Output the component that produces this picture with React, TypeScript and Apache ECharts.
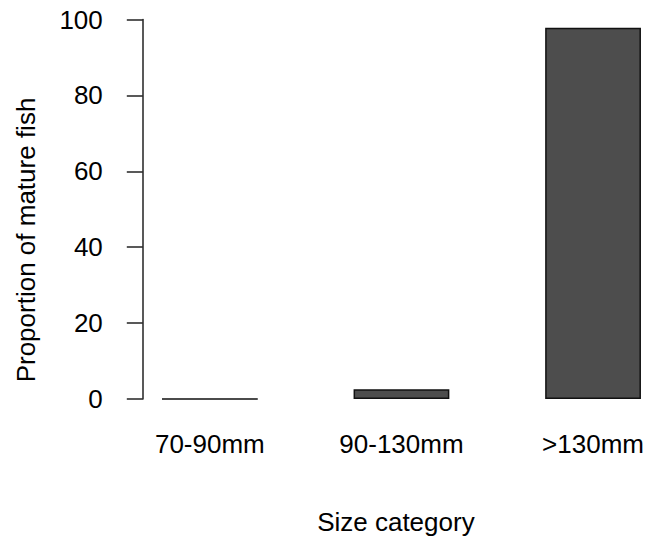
import React, { useEffect, useRef } from "react";
import * as echarts from "echarts";

const categories = ["70-90mm", "90-130mm", ">130mm"];
const proportions = [0, 2.6, 97.8];
const yTicks = { min: 0, max: 100, interval: 20 };
const xTitle = "Size category";
const yTitle = "Proportion of mature fish";

const FONT = "'Liberation Sans', Arial, sans-serif";
const FS = 26;

// R barplot geometry: bar width 1, space 1 -> bar i spans [2i+1, 2i+2], centre 2i+1.5
const centres = categories.map((_, i) => 2 * i + 1.5);

export default function App() {
  const ref = useRef<HTMLDivElement>(null);
  useEffect(() => {
    if (!ref.current) return;
    const chart = echarts.init(ref.current, null, { renderer: "svg" });
    chart.setOption({
      animation: false,
      backgroundColor: "#ffffff",
      textStyle: { fontFamily: FONT },
      grid: { left: 142.8, right: 0, top: 19.5, bottom: 143, containLabel: false },
      xAxis: {
        type: "value",
        min: 0.8,
        max: 0.8 + 506.2 / 95.8,
        axisLine: { show: false },
        axisTick: { show: false },
        splitLine: { show: false },
        axisLabel: {
          customValues: centres,
          fontSize: FS,
          color: "#000",
          margin: 32,
          fontFamily: FONT,
          formatter: (v: number) => {
            const i = centres.findIndex((c) => Math.abs(c - v) < 1e-6);
            return i >= 0 ? categories[i] : "";
          },
        },
        name: xTitle,
        nameLocation: "middle",
        nameGap: 110,
        nameTextStyle: { fontSize: FS, color: "#000", fontFamily: FONT },
      },
      yAxis: {
        type: "value",
        min: yTicks.min,
        max: yTicks.max,
        interval: yTicks.interval,
        splitLine: { show: false },
        axisLine: { show: true, lineStyle: { color: "#222", width: 1.5 } },
        axisTick: { show: true, length: 16, lineStyle: { color: "#222", width: 1.5 } },
        axisLabel: { fontSize: FS, color: "#000", margin: 40, fontFamily: FONT },
      },
      graphic: [
        {
          type: "text",
          x: 26,
          y: 240,
          rotation: Math.PI / 2,
          style: {
            text: yTitle,
            fontSize: FS,
            fill: "#000",
            fontFamily: FONT,
            align: "center",
            verticalAlign: "middle",
          },
        },
      ],
      series: [
        {
          type: "bar",
          data: proportions.map((v, i) => [centres[i], v]),
          barWidth: 95.8,
          itemStyle: { color: "#4d4d4d", borderColor: "#111", borderWidth: 1.5 },
        },
      ],
    });
    return () => chart.dispose();
  }, []);
  return <div ref={ref} style={{ width: 649, height: 542, position: "absolute", left: 0, top: 0 }} />;
}
